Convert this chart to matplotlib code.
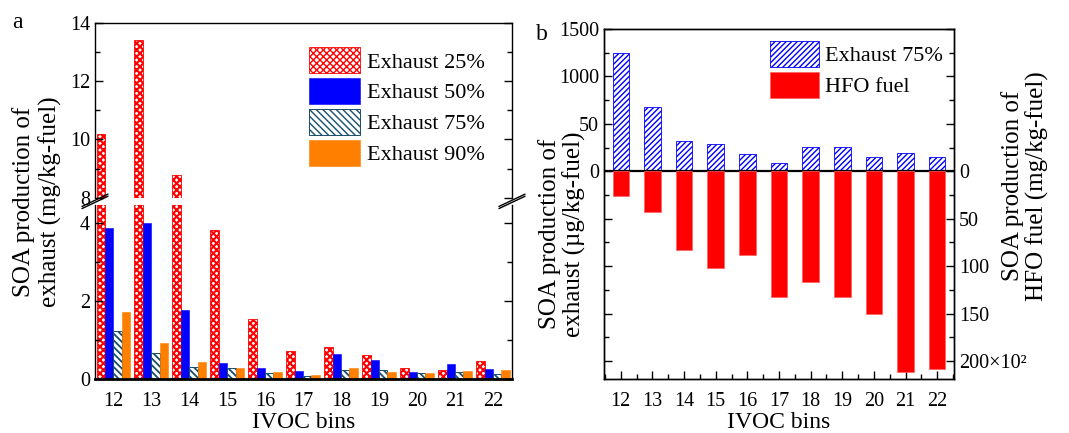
import numpy as np
import matplotlib
matplotlib.use('Agg')
import matplotlib.pyplot as plt
from matplotlib.ticker import FixedLocator, FixedFormatter, MultipleLocator

plt.rcParams['font.family'] = ['Liberation Serif', 'DejaVu Serif']
plt.rcParams['hatch.linewidth'] = 1.0

bins = [12, 13, 14, 15, 16, 17, 18, 19, 20, 21, 22]
# panel a, mg/kg-fuel
exh25 = [10.17, 13.41, 8.78, 3.83, 1.54, 0.73, 0.82, 0.62, 0.28, 0.24, 0.47]
exh50 = [3.87, 4.00, 1.78, 0.43, 0.29, 0.21, 0.65, 0.50, 0.19, 0.39, 0.26]
exh75 = [1.24, 0.67, 0.31, 0.28, 0.17, 0.09, 0.25, 0.25, 0.16, 0.18, 0.14]
exh90 = [1.72, 0.94, 0.44, 0.29, 0.19, 0.11, 0.28, 0.19, 0.15, 0.21, 0.23]
# panel b
exh75_b = [1252, 68.2, 31.5, 29.1, 18.2, 8.4, 25.2, 25.6, 15.4, 19.3, 15.4]   # ug/kg-fuel
hfo = [26.0, 43.2, 82.9, 101.9, 88.5, 132.5, 116.7, 132.5, 150.0, 211.5, 208.7]  # x10^2 mg/kg-fuel

W, H = 1069, 433
fig = plt.figure(figsize=(W / 100, H / 100), dpi=100)

def fx(px):
    return px / W

def fy(py):
    return 1 - py / H

TICK = 14.5
LAB = 17
YLAB = 18

# ---------------- panel a ----------------
ax_top = fig.add_axes([fx(95), fy(197.7), fx(512 - 95), (197.7 - 22.7) / H])
ax_bot = fig.add_axes([fx(95), fy(379.3), fx(512 - 95), (379.3 - 205) / H])

x = np.array(bins, dtype=float)
bw = 0.22
series = [
    (exh25, dict(facecolor='white', edgecolor='red', hatch='xxxxx', lw=0.6), 'Exhaust 25%', 1.5),
    (exh50, dict(facecolor='blue', edgecolor='blue', lw=0.4), 'Exhaust 50%', 1.0),
    (exh75, dict(facecolor='white', edgecolor='#164e6e', hatch='\\\\\\\\\\', lw=0.7), 'Exhaust 75%', 1.3),
    (exh90, dict(facecolor='#ff8000', edgecolor='#ff8000', lw=0.4), 'Exhaust 90%', 1.0),
]
handles = []
for i, (vals, st, lab, hlw) in enumerate(series):
    off = (i - 1.5) * bw
    with matplotlib.rc_context({'hatch.linewidth': hlw}):
        for a in (ax_top, ax_bot):
            b = a.bar(x + off, vals, bw, label=lab, **st)
    handles.append(b)

ax_top.set_ylim(8, 14)
ax_bot.set_ylim(0, 4.47)
for a in (ax_top, ax_bot):
    a.set_xlim(11.52, 22.5)
    a.tick_params(axis='y', direction='in', right=True, labelsize=TICK, length=6, width=1)
    a.tick_params(axis='y', which='minor', direction='in', right=True, length=3.5, width=1)
    a.tick_params(axis='x', length=0, labelsize=TICK, pad=9)
ax_top.yaxis.set_major_locator(MultipleLocator(2))
ax_top.yaxis.set_minor_locator(MultipleLocator(1))
ax_bot.yaxis.set_major_locator(MultipleLocator(2))
ax_bot.yaxis.set_minor_locator(MultipleLocator(1))
ax_top.spines['bottom'].set_visible(False)
ax_top.tick_params(axis='x', labelbottom=False)
ax_bot.spines['top'].set_visible(False)
ax_bot.spines['bottom'].set_linewidth(2)
ax_bot.set_xticks(bins)
ax_bot.set_xlabel('IVOC bins', fontsize=LAB, labelpad=1)
for a in (ax_top, ax_bot):
    for s in ('left', 'right', 'top'):
        a.spines[s].set_linewidth(1)

# break marks
d = 0.012
for xx in (0, 1):
    fig.add_artist(plt.Line2D([fx(95 + 417 * xx) - d, fx(95 + 417 * xx) + d],
                              [fy(205) - 0.008, fy(205) + 0.02], color='k', lw=1))
    fig.add_artist(plt.Line2D([fx(95 + 417 * xx) - d, fx(95 + 417 * xx) + d],
                              [fy(197.7) - 0.02, fy(197.7) + 0.008], color='k', lw=1))

ax_top.legend(handles=handles, loc='upper right', bbox_to_anchor=(0.935, 0.861), frameon=False,
              fontsize=16, handlelength=2.3, handleheight=1.45, labelspacing=0.2,
              handletextpad=0.3, borderaxespad=0, borderpad=0)

fig.text(fx(37.5), fy(202), 'SOA production of\nexhaust (mg/kg-fuel)', rotation=90,
         ha='center', va='center', fontsize=YLAB, linespacing=1.2)
fig.text(fx(12), fy(22), 'a', fontsize=LAB, ha='left', va='center')

# ---------------- panel b ----------------
def fwd(v):
    v = np.asarray(v, dtype=float)
    return np.where(v <= 100, v, np.where(v >= 1000, 100 + (v - 1000) / 10, 100))

def inv(t):
    t = np.asarray(t, dtype=float)
    return np.where(t <= 100, t, 1000 + (t - 100) * 10)

axb = fig.add_axes([fx(604), fy(379), fx(954 - 604), (379 - 29) / H])
axb.set_yscale('function', functions=(fwd, inv))
axb.set_xlim(11.47, 22.53)
axb.set_ylim(-219, 1500)
b1 = axb.bar(bins, exh75_b, 0.52, facecolor='white', edgecolor='blue', hatch='//////',
             lw=0.6, label='Exhaust 75%')
axb.axhline(0, color='k', lw=1.6, zorder=5)

axr = axb.twinx()
axr.set_ylim(219, -150)
b2 = axr.bar(bins, hfo, 0.52, color='red', edgecolor='#ff6060', lw=0.5, label='HFO fuel')

axb.yaxis.set_major_locator(FixedLocator([-200, -150, -100, -50, 0, 50, 1000, 1500]))
axb.yaxis.set_major_formatter(FixedFormatter(['', '', '', '', '0', '50', '1000', '1500']))
axb.yaxis.set_minor_locator(FixedLocator([-175, -125, -75, -25, 25, 75, 1250]))
axr.yaxis.set_major_locator(FixedLocator([-150, -100, -50, 0, 50, 100, 150, 200]))
axr.yaxis.set_major_formatter(FixedFormatter(['', '', '', '0', '50', '100', '150', '200×10²']))
axr.yaxis.set_minor_locator(FixedLocator([-125, -75, -25, 25, 75, 125, 175]))

axb.set_xticks(bins)
axb.xaxis.set_minor_locator(MultipleLocator(0.5))
axb.tick_params(axis='both', which='major', direction='in', length=6, width=1, labelsize=TICK)
axb.tick_params(axis='x', pad=9)
axb.tick_params(axis='both', which='minor', direction='in', length=3.5, width=1)
axr.tick_params(axis='y', which='major', direction='in', length=6, width=1, labelsize=TICK)
axr.tick_params(axis='y', which='minor', direction='in', length=3.5, width=1)
axb.set_xlabel('IVOC bins', fontsize=LAB, labelpad=1)
for a in (axb, axr):
    for s in a.spines.values():
        s.set_linewidth(1)

axb.legend(handles=[b1, b2], loc='upper right', bbox_to_anchor=(0.969, 0.966), frameon=False,
           fontsize=16, handlelength=2.2, handleheight=1.45, labelspacing=0.2,
           handletextpad=0.3, borderaxespad=0, borderpad=0)

fig.text(fx(562), fy(234), 'SOA production of\nexhaust (µg/kg-fuel)', rotation=90,
         ha='center', va='center', fontsize=YLAB, linespacing=1.05)
fig.text(fx(1025), fy(186), 'SOA production of\nHFO fuel (mg/kg-fuel)', rotation=90,
         ha='center', va='center', fontsize=YLAB, linespacing=1.05)
fig.text(fx(536), fy(34), 'b', fontsize=LAB, ha='left', va='center')

fig.savefig('out.png', dpi=100)
